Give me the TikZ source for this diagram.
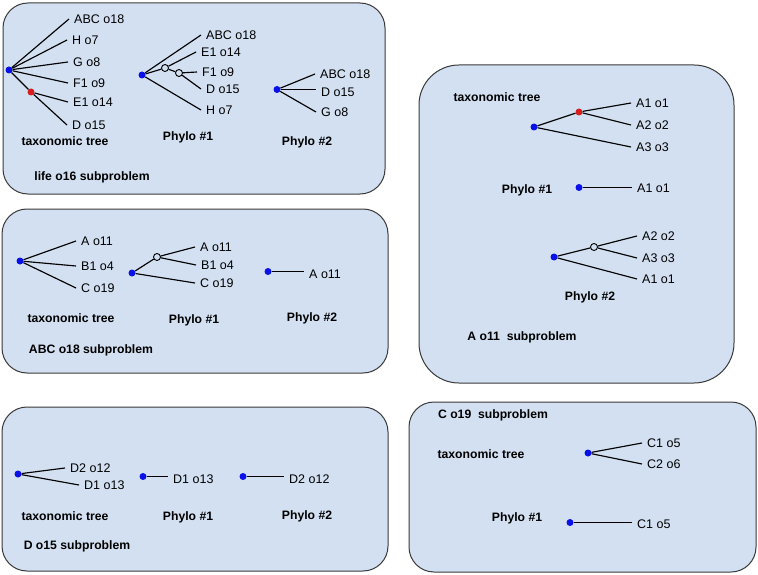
\documentclass[tikz,border=0pt]{standalone}
\usepackage{fontspec}
\setmainfont{Liberation Sans}
\usetikzlibrary{calc}
\definecolor{boxblue}{HTML}{D3E0F1}
\definecolor{boxline}{HTML}{3A3A3A}
\definecolor{rootblue}{HTML}{0A10E8}
\definecolor{innerred}{HTML}{D81E1E}

\begin{document}
\begin{tikzpicture}[x=1pt,y=-1pt,
    subbox/.style={fill=boxblue, draw=boxline, line width=1pt, rounded corners=25pt},
    root/.style={circle, fill=rootblue, inner sep=0pt, minimum size=7pt},
    inner/.style={circle, fill=innerred, inner sep=0pt, minimum size=7pt},
    hollow/.style={circle, draw=black, line width=0.9pt, inner sep=0pt, minimum size=7pt},
    leaf/.style={anchor=west, inner xsep=5pt, inner ysep=1pt, font=\fontsize{12.5}{14}\selectfont},
    caption/.style={font=\bfseries\fontsize{12.2}{14}\selectfont},
    branch/.style={line width=1.15pt}]
    \useasboundingbox (0,0) rectangle (758,575);

    % draw the boxes
    \draw[subbox] (3,3) rectangle (385,194);
    \draw[subbox] (2,209) rectangle (388,373);
    \draw[subbox] (2,407) rectangle (388,571);
    \draw[subbox, rounded corners=40pt] (419,65) rectangle (734,383);
    \draw[subbox] (409,402) rectangle (756,572);

    % life o16: taxonomic tree
    \node[root] (lt) at (9,70) {};
    \node[inner] (lti) at (31,92) {};
    \node[leaf] (ltabc) at (69,19) {ABC o18};
    \node[leaf] (lth) at (67,40) {H o7};
    \node[leaf] (ltg) at (68,62) {G o8};
    \node[leaf] (ltf) at (68,83) {F1 o9};
    \node[leaf] (lte) at (68,102) {E1 o14};
    \node[leaf] (ltd) at (67,125) {D o15};
    \draw[branch] (lt) -- (ltabc.west);
    \draw[branch] (lt) -- (lth.west);
    \draw[branch] (lt) -- (ltg.west);
    \draw[branch] (lt) -- (ltf.west);
    \draw[branch] (lt) -- (lti);
    \draw[branch] (lti) -- (lte.west);
    \draw[branch] (lti) -- (ltd.west);
    % life o16: phylo #1
    \node[root] (lp) at (142,75) {};
    \node[hollow] (lpa) at (165,68) {};
    \node[hollow] (lpb) at (179,73) {};
    \node[leaf] (lpabc) at (201,35) {ABC o18};
    \node[leaf] (lpe) at (196,52) {E1 o14};
    \node[leaf] (lpf) at (197,72) {F1 o9};
    \node[leaf] (lpd) at (201,89) {D o15};
    \node[leaf] (lph) at (201,110) {H o7};
    \draw[branch] (lp) -- (lpabc.west);
    \draw[branch] (lp) -- (lpa);
    \draw[branch] (lpa) -- (lpe.west);
    \draw[branch] (lpa) -- (lpb);
    \draw[branch] (lpb) -- (lpf.west);
    \draw[branch] (lpb) -- (lpd.west);
    \draw[branch] (lp) -- (lph.west);
    % life o16: phylo #2
    \node[root] (lq) at (277,89.5) {};
    \node[leaf] (lqabc) at (315,74) {ABC o18};
    \node[leaf] (lqd) at (316,92) {D o15};
    \node[leaf] (lqg) at (316,112) {G o8};
    \draw[branch] (lq) -- (lqabc.west);
    \draw[branch] (lq) -- (lq -| lqd.west);
    \draw[branch] (lq) -- (lqg.west);
    % life o16: the texts
    \node[caption] (ltcap) at (65,141) {taxonomic tree};
    \node[caption] (lpcap) at (188,137) {Phylo \#1};
    \node[caption] (lqcap) at (307,142) {Phylo \#2};
    \node[caption] (ltitle) at (92,177) {life o16 subproblem};

    % ABC o18: taxonomic tree
    \node[root] (at) at (20,261) {};
    \node[leaf] (ata) at (76,241) {A o11};
    \node[leaf] (atb) at (76,266) {B1 o4};
    \node[leaf] (atc) at (76,288) {C o19};
    \draw[branch] (at) -- (ata.west);
    \draw[branch] (at) -- (atb.west);
    \draw[branch] (at) -- (atc.west);
    % ABC o18: phylo #1
    \node[root] (ap) at (132,273) {};
    \node[hollow] (apa) at (157,257) {};
    \node[leaf] (apA) at (195,247) {A o11};
    \node[leaf] (apb) at (196,265) {B1 o4};
    \node[leaf] (apc) at (195,283) {C o19};
    \draw[branch] (ap) -- (apa);
    \draw[branch] (apa) -- (apA.west);
    \draw[branch] (apa) -- (apb.west);
    \draw[branch] (ap) -- (apc.west);
    % ABC o18: phylo #2
    \node[root] (aq) at (268,271.5) {};
    \node[leaf] (aqa) at (304,274) {A o11};
    \draw[branch] (aq) -- (aq -| aqa.west);
    % ABC o18: the texts
    \node[caption] (atcap) at (71,318) {taxonomic tree};
    \node[caption] (apcap) at (194,320) {Phylo \#1};
    \node[caption] (aqcap) at (312,318) {Phylo \#2};
    \node[caption] (atitle) at (91,350) {ABC o18 subproblem};

    % D o15: the three trees
    \node[root] (dt) at (18,474) {};
    \node[leaf] (dtb) at (65,468) {D2 o12};
    \node[leaf] (dta) at (79,485) {D1 o13};
    \draw[branch] (dt) -- (dtb.west);
    \draw[branch] (dt) -- (dta.west);
    \node[root] (dp) at (143,476.5) {};
    \node[leaf] (dpa) at (168,479) {D1 o13};
    \draw[branch] (dp) -- (dp -| dpa.west);
    \node[root] (dq) at (243,476.5) {};
    \node[leaf] (dqb) at (284,479) {D2 o12};
    \draw[branch] (dq) -- (dq -| dqb.west);
    % D o15: the texts
    \node[caption] (dtcap) at (65,516) {taxonomic tree};
    \node[caption] (dpcap) at (188,517) {Phylo \#1};
    \node[caption] (dqcap) at (307,516) {Phylo \#2};
    \node[caption] (dtitle) at (77,546) {D o15 subproblem};

    % A o11: taxonomic tree
    \node[root] (et) at (534,127) {};
    \node[inner] (eti) at (579,112) {};
    \node[leaf] (eta) at (631,103) {A1 o1};
    \node[leaf] (etb) at (631,125) {A2 o2};
    \node[leaf] (etc) at (631,147) {A3 o3};
    \draw[branch] (et) -- (eti);
    \draw[branch] (eti) -- (eta.west);
    \draw[branch] (eti) -- (etb.west);
    \draw[branch] (et) -- (etc.west);
    % A o11: phylo #1
    \node[root] (ep) at (579,187.5) {};
    \node[leaf] (epa) at (632,188) {A1 o1};
    \draw[branch] (ep) -- (ep -| epa.west);
    % A o11: phylo #2
    \node[root] (eq) at (554,257) {};
    \node[hollow] (eqa) at (594,247) {};
    \node[leaf] (eqb) at (637,236) {A2 o2};
    \node[leaf] (eqc) at (637,258) {A3 o3};
    \node[leaf] (eqA) at (637,279) {A1 o1};
    \draw[branch] (eq) -- (eqa);
    \draw[branch] (eqa) -- (eqb.west);
    \draw[branch] (eqa) -- (eqc.west);
    \draw[branch] (eq) -- (eqA.west);
    % A o11: the texts
    \node[caption] (etcap) at (497,97) {taxonomic tree};
    \node[caption] (epcap) at (527,190) {Phylo \#1};
    \node[caption] (eqcap) at (590,297) {Phylo \#2};
    \node[caption] (etitle) at (522,337) {A o11\ \ subproblem};

    % C o19: the two trees
    \node[root] (ct) at (588,453) {};
    \node[leaf] (cta) at (642,443) {C1 o5};
    \node[leaf] (ctb) at (642,464) {C2 o6};
    \draw[branch] (ct) -- (cta.west);
    \draw[branch] (ct) -- (ctb.west);
    \node[root] (cp) at (570,522.5) {};
    \node[leaf] (cpa) at (632,524) {C1 o5};
    \draw[branch] (cp) -- (cp -| cpa.west);
    % C o19: the texts
    \node[caption] (ctitle) at (493,415) {C o19\ \ subproblem};
    \node[caption] (ctcap) at (481,454) {taxonomic tree};
    \node[caption] (cpcap) at (517,518) {Phylo \#1};
\end{tikzpicture}
\end{document}
